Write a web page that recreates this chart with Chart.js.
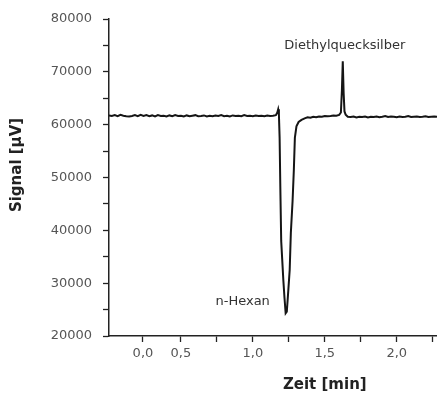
<!DOCTYPE html>
<html>
<head>
<meta charset="utf-8">
<script src="https://cdn.jsdelivr.net/npm/chart.js@4/dist/chart.umd.min.js"></script>
<style>
    html, body { margin: 0; padding: 0; background: #fff; }
    #wrap { width: 437px; height: 394px; position: relative; }
</style>
</head>
<body>
<div id="wrap"><canvas id="chromChart"></canvas></div>
<script>
const timeMin = [
    0.00, 0.02, 0.04, 0.06, 0.08, 0.10, 0.12, 0.14, 0.16, 0.18,
    0.20, 0.22, 0.24, 0.26, 0.28, 0.30, 0.32, 0.34, 0.36, 0.38,
    0.40, 0.42, 0.44, 0.46, 0.48, 0.50, 0.52, 0.54, 0.56, 0.58,
    0.60, 0.62, 0.64, 0.66, 0.68, 0.70, 0.72, 0.74, 0.76, 0.78,
    0.80, 0.82, 0.84, 0.86, 0.88, 0.90, 0.92, 0.94, 0.96, 0.98,
    1.00, 1.02, 1.04, 1.06, 1.08, 1.10, 1.12, 1.14, 1.16,
    // n-Hexan
    1.170, 1.176, 1.181, 1.186, 1.191, 1.197, 1.204, 1.212, 1.220, 1.228,
    1.236, 1.246, 1.256, 1.264, 1.276, 1.285, 1.292, 1.303, 1.318, 1.338,
    1.36, 1.38, 1.40, 1.42, 1.44, 1.46, 1.48, 1.50, 1.52, 1.54, 1.56, 1.58, 1.60,
    // Diethylquecksilber
    1.612, 1.619, 1.625, 1.631, 1.637, 1.645,
    1.66, 1.68, 1.70, 1.72, 1.74, 1.76, 1.78, 1.80, 1.82, 1.84, 1.86, 1.88,
    1.90, 1.92, 1.94, 1.96, 1.98, 2.00, 2.02, 2.04, 2.06, 2.08, 2.10, 2.12,
    2.14, 2.16, 2.18, 2.20, 2.22, 2.24, 2.26, 2.28
];
const signal = [
    61750, 61650, 61800, 61600, 61850, 61700, 61600, 61550, 61650, 61800,
    61600, 61850, 61650, 61800, 61600, 61750, 61550, 61800, 61650, 61700,
    61550, 61750, 61600, 61800, 61650, 61700, 61550, 61750, 61600, 61700,
    61800, 61600, 61650, 61750, 61550, 61700, 61600, 61750, 61650, 61800,
    61600, 61700, 61550, 61750, 61650, 61700, 61600, 61800, 61650, 61700,
    61600, 61750, 61650, 61700, 61600, 61750, 61650, 61700, 61800,
    62300, 62900, 62000, 57500, 48000, 38000, 34500, 30500, 27200, 24300,
    24600, 28500, 32500, 39500, 45500, 51500, 57500, 59700, 60500, 60900,
    61200, 61400, 61300, 61500, 61400, 61550, 61500, 61650, 61600, 61650, 61750, 61700, 61850,
    62300, 66500, 72000, 66000, 62500, 61900,
    61500, 61450, 61550, 61350, 61500, 61450, 61550, 61350, 61500, 61450, 61550, 61400,
    61500, 61650, 61450, 61550, 61500, 61400, 61550, 61450, 61500, 61650, 61450, 61500,
    61550, 61450, 61500, 61600, 61450, 61500, 61550, 61500
];

// Achsenbeschriftung (die Originalgrafik setzt "0,0" etwas rechts vom Nullpunkt)
const xTickValues = [0.236, 0.5, 1.0, 1.5, 2.0];
const xTickLabels = ['0,0', '0,5', '1,0', '1,5', '2,0'];
const xMinorTicks = [0.75, 1.25, 1.75, 2.25];
const yTickLabels = ['20000', '30000', '40000', '50000', '60000', '70000', '80000'];

// Peak-Namen
const peakNames = ['Diethylquecksilber', 'n-Hexan'];
const peakLabelAt = [
    { x: 1.639, y: 74900, align: 'center' },
    { x: 1.118, y: 26440, align: 'right' }
];

const points = timeMin.map((t, i) => ({ x: t, y: signal[i] }));

// Titel und Peak-Namen selbst zeichnen, damit sie wie im Original sitzen
const textPlugin = {
    id: 'textPlugin',
    afterDraw(chart) {
        const ctx = chart.ctx;
        const x = chart.scales.x;
        const y = chart.scales.y;
        ctx.save();
        ctx.fillStyle = '#222';
        ctx.font = 'bold 15px "DejaVu Sans"';
        ctx.textAlign = 'center';
        ctx.textBaseline = 'middle';
        ctx.fillText('Zeit [min]', x.getPixelForValue(1.5), 385);

        ctx.save();
        ctx.translate(17, 165);
        ctx.rotate(-Math.PI / 2);
        ctx.fillText('Signal [µV]', 0, 0);
        ctx.restore();

        ctx.font = '13px "DejaVu Sans"';
        ctx.fillStyle = '#333';
        peakNames.forEach((name, i) => {
            const p = peakLabelAt[i];
            ctx.textAlign = p.align;
            ctx.fillText(name, x.getPixelForValue(p.x), y.getPixelForValue(p.y));
        });
        ctx.restore();
    }
};

const ctx = document.getElementById('chromChart').getContext('2d');
new Chart(ctx, {
    type: 'line',
    data: {
        datasets: [{
            label: 'Signal',
            data: points,
            borderColor: '#151515',
            borderWidth: 2,
            pointRadius: 0,
            tension: 0,
            fill: false
        }]
    },
    options: {
        responsive: true,
        maintainAspectRatio: false,
        animation: false,
        layout: {
            padding: { top: 19, right: 0, bottom: 0, left: 0 }
        },
        plugins: {
            legend: { display: false },
            tooltip: { enabled: false }
        },
        scales: {
            x: {
                type: 'linear',
                min: 0,
                max: 2.28,
                afterBuildTicks: function(scale) {
                    const ticks = xTickValues.map(v => ({ value: v }));
                    xMinorTicks.forEach(v => ticks.push({ value: v }));
                    ticks.sort((a, b) => a.value - b.value);
                    scale.ticks = ticks;
                },
                afterFit: function(scale) {
                    scale.height = 58;
                },
                grid: {
                    drawOnChartArea: false,
                    drawTicks: true,
                    tickLength: 6,
                    tickColor: '#222',
                    tickWidth: 1.3
                },
                border: {
                    color: '#222',
                    width: 1.5
                },
                ticks: {
                    autoSkip: false,
                    maxRotation: 0,
                    padding: 4,
                    color: '#555',
                    font: { family: 'DejaVu Sans', size: 13 },
                    callback: function(value) {
                        const idx = xTickValues.indexOf(value);
                        return idx >= 0 ? xTickLabels[idx] : '';
                    }
                }
            },
            y: {
                min: 20000,
                max: 80000,
                afterFit: function(scale) {
                    scale.width = 109;
                },
                grid: {
                    drawOnChartArea: false,
                    drawTicks: true,
                    tickLength: 6,
                    tickColor: '#222',
                    tickWidth: 1.3
                },
                border: {
                    color: '#222',
                    width: 1.5
                },
                ticks: {
                    stepSize: 5000,
                    padding: 11,
                    color: '#555',
                    font: { family: 'DejaVu Sans', size: 13 },
                    callback: function(value) {
                        const label = String(value);
                        return yTickLabels.includes(label) ? label : '';
                    }
                }
            }
        }
    },
    plugins: [textPlugin]
});
</script>
</body>
</html>
